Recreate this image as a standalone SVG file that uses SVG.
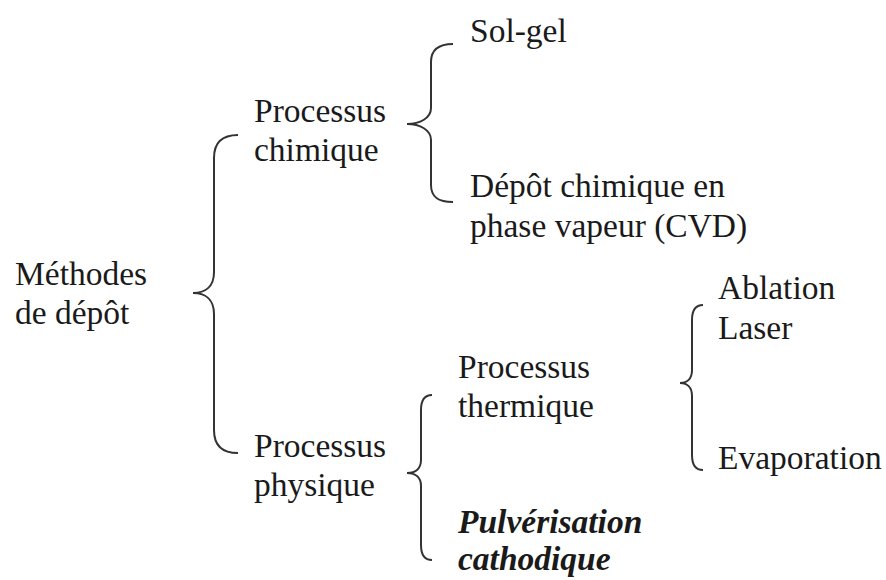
<svg xmlns="http://www.w3.org/2000/svg" width="886" height="580" viewBox="0 0 886 580">
<style>
text { font-family: "Liberation Serif", "Times New Roman", serif; font-size: 33.5px; fill: #1a1a1a; }
.bi { font-weight: bold; font-style: italic; }
.brace { fill: none; stroke: #333; stroke-width: 2; }
</style>
<rect width="886" height="580" fill="#fff"/>
<g id="connectors">
<path class="brace" d="M238,135 C222,135 214,143 214,158 L214,272 C214,287 205,293 193,293 C205,293 214,299 214,314 L214,430 C214,445 222,453 238,453"/>
<path class="brace" d="M453,44 C438,44 431,50 431,62 L431,108 C431,118 420,124 407,124 C420,124 431,130 431,140 L431,185 C431,197 438,202 453,202"/>
<path class="brace" d="M432,395 C425,395 421,400 421,410 L421,460 C421,469 415,473 407,473 C415,473 421,477 421,486 L421,545 C421,555 425,560 432,560"/>
<path class="brace" d="M703,305 C696,305 692,310 692,320 L692,370 C692,379 687,383 680,383 C687,383 692,387 692,396 L692,455 C692,465 696,470 703,470"/>
</g>
<g id="methodes"><text x="15" y="285">Méthodes</text><text x="15" y="324">de dépôt</text></g>
<g id="chimique"><text x="254" y="122">Processus</text><text x="254" y="161">chimique</text></g>
<g id="solgel"><text x="470" y="42">Sol-gel</text></g>
<g id="cvd"><text x="470" y="197">Dépôt chimique en</text><text x="470" y="237">phase vapeur (CVD)</text></g>
<g id="physique"><text x="254" y="457">Processus</text><text x="254" y="496">physique</text></g>
<g id="thermique"><text x="458" y="378">Processus</text><text x="458" y="417">thermique</text></g>
<g id="ablation"><text x="718" y="299">Ablation</text><text x="718" y="339">Laser</text></g>
<g id="evaporation"><text x="718" y="469">Evaporation</text></g>
<g id="pulverisation"><text class="bi" x="458" y="533">Pulvérisation</text><text class="bi" x="458" y="570">cathodique</text></g>
</svg>
